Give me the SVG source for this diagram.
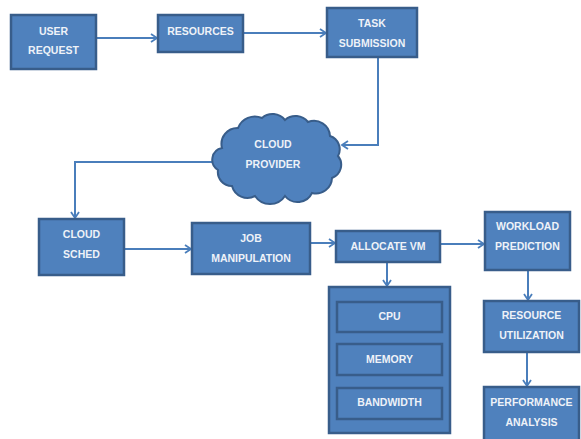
<svg xmlns="http://www.w3.org/2000/svg" width="581" height="439" viewBox="0 0 581 439">
  <defs>
    <marker id="arrow" markerWidth="10" markerHeight="10" refX="8" refY="5" orient="auto" markerUnits="userSpaceOnUse">
      <path d="M2,1 L8,5 L2,9" fill="none" stroke="#4A7EBB" stroke-width="1.8"/>
    </marker>
  </defs>
  <style>
    .box { fill: #4F81BD; stroke: #385D8A; stroke-width: 2.5; }
    .inner { fill: #4F81BD; stroke: #385D8A; stroke-width: 2.5; }
    .lbl { font-family: "Liberation Sans", Arial, sans-serif; font-size: 10.5px; font-weight: bold; fill: #EEF2F8; text-anchor: middle; dominant-baseline: middle; }
    .conn { fill: none; stroke: #4A7EBB; stroke-width: 2; marker-end: url(#arrow); }
  </style>
  <rect width="581" height="439" fill="#FFFFFF"/>

  <g id="connectors">
    <path class="conn" d="M96,38 L157,38"/>
    <path class="conn" d="M243,33 L326,33"/>
    <path class="conn" d="M378,57 L378,145 L342,145"/>
    <path class="conn" d="M214,162 L75,162 L75,218"/>
    <path class="conn" d="M124,249 L191,249"/>
    <path class="conn" d="M310,243 L335,243"/>
    <path class="conn" d="M440,244 L484,244"/>
    <path class="conn" d="M387,262 L387,286"/>
    <path class="conn" d="M528,270 L528,300"/>
    <path class="conn" d="M527,352 L527,386"/>
  </g>

  <g id="user-request">
    <rect class="box" x="11" y="15" width="85" height="54"/>
    <text class="lbl" x="53.5" y="32">USER</text>
    <text class="lbl" x="53.5" y="51">REQUEST</text>
  </g>

  <g id="resources">
    <rect class="box" x="158" y="15" width="85" height="37"/>
    <text class="lbl" x="200.5" y="32">RESOURCES</text>
  </g>

  <g id="task-submission">
    <rect class="box" x="327" y="8" width="90" height="49"/>
    <text class="lbl" x="372" y="24">TASK</text>
    <text class="lbl" x="372" y="44">SUBMISSION</text>
  </g>

  <g id="cloud-provider">
    <path fill="#4F81BD" stroke="#385D8A" stroke-width="2" d="M222,148 A16,16 0 0 1 238,128 A18,18 0 0 1 262,118 A16,16 0 0 1 285,120 A16,16 0 0 1 308,122 A16,16 0 0 1 330,136 A14,14 0 0 1 338,156 A14,14 0 0 1 332,178 A16,16 0 0 1 312,193 A16,16 0 0 1 285,196 A18,18 0 0 1 255,196 A16,16 0 0 1 232,186 A14,14 0 0 1 218,170 A12,12 0 0 1 222,148 Z"/>
    <text class="lbl" x="273" y="145">CLOUD</text>
    <text class="lbl" x="273" y="165">PROVIDER</text>
  </g>

  <g id="cloud-sched">
    <rect class="box" x="39" y="219" width="85" height="56"/>
    <text class="lbl" x="81.5" y="235">CLOUD</text>
    <text class="lbl" x="81.5" y="255">SCHED</text>
  </g>

  <g id="job-manipulation">
    <rect class="box" x="192" y="223" width="118" height="51"/>
    <text class="lbl" x="251" y="239">JOB</text>
    <text class="lbl" x="251" y="259">MANIPULATION</text>
  </g>

  <g id="allocate-vm">
    <rect class="box" x="336" y="231" width="104" height="31"/>
    <text class="lbl" x="388" y="247">ALLOCATE VM</text>
  </g>

  <g id="vm-resources">
    <rect class="box" x="329" y="287" width="121" height="146"/>
    <rect class="inner" x="337" y="302" width="105" height="30"/>
    <text class="lbl" x="389.5" y="317">CPU</text>
    <rect class="inner" x="337" y="344" width="105" height="31"/>
    <text class="lbl" x="389.5" y="360">MEMORY</text>
    <rect class="inner" x="337" y="388" width="105" height="31"/>
    <text class="lbl" x="389.5" y="403">BANDWIDTH</text>
  </g>

  <g id="workload-prediction">
    <rect class="box" x="485" y="212" width="85" height="58"/>
    <text class="lbl" x="527.5" y="227">WORKLOAD</text>
    <text class="lbl" x="527.5" y="247">PREDICTION</text>
  </g>

  <g id="resource-utilization">
    <rect class="box" x="484" y="301" width="95" height="51"/>
    <text class="lbl" x="531.5" y="316">RESOURCE</text>
    <text class="lbl" x="531.5" y="336">UTILIZATION</text>
  </g>

  <g id="performance-analysis">
    <rect class="box" x="484" y="387" width="95" height="56"/>
    <text class="lbl" x="531.5" y="403">PERFORMANCE</text>
    <text class="lbl" x="531.5" y="423">ANALYSIS</text>
  </g>
</svg>
